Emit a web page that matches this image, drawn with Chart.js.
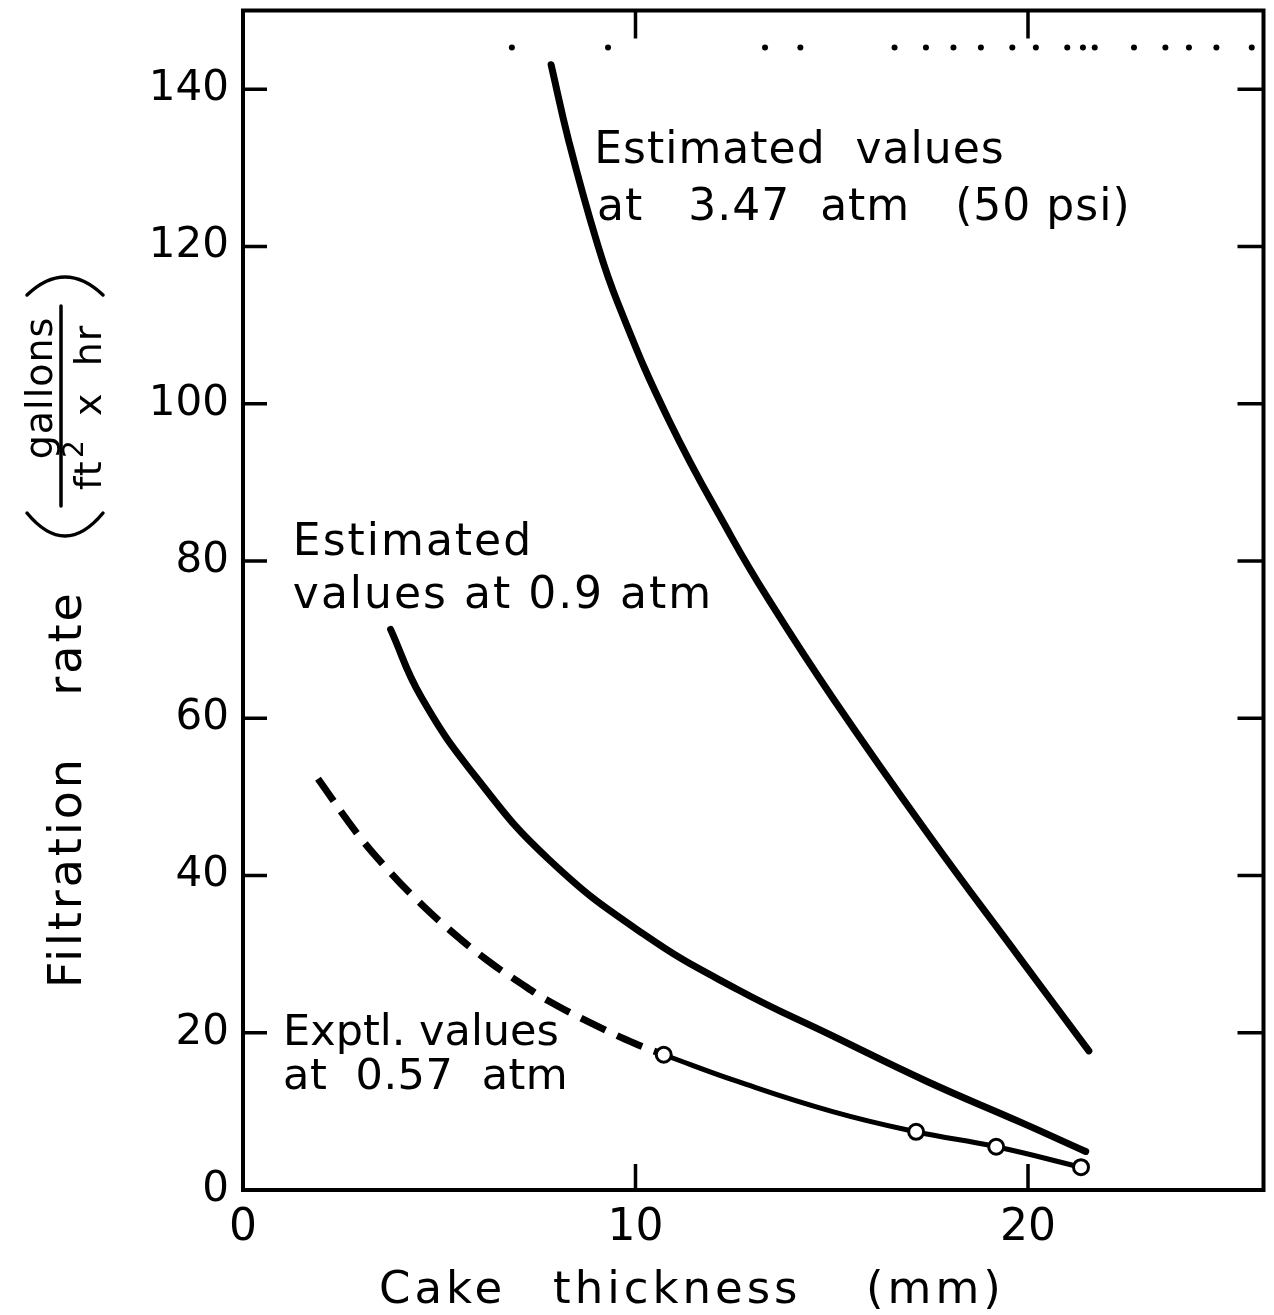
<!DOCTYPE html>
<html>
<head>
<meta charset="utf-8">
<title>Filtration rate vs cake thickness</title>
<script src="https://cdn.jsdelivr.net/npm/chart.js@4.4.1/dist/chart.umd.min.js"></script>
<style>
  html, body { margin: 0; padding: 0; background: #fff; }
  #wrap { width: 1274px; height: 1315px; }
</style>
</head>
<body>
<div id="wrap"><canvas id="filtrationChart" width="1274" height="1315"></canvas></div>
<script>
// cake thickness in mm, filtration rate in gallons / (ft2 x hr)

// estimated, 3.47 atm (50 psi)
const est347X = [7.85, 8.3, 9.0, 9.55, 10.85, 12.45, 13.39, 15.02, 17.45, 19.82, 21.55];
const est347Y = [143.1, 133.4, 120.8, 112.8, 97.9, 83.0, 75.1, 62.6, 45.3, 29.3, 17.7];

// estimated, 0.9 atm
const est09X = [3.76, 4.54, 5.97, 7.8, 10.19, 12.6, 15.02, 17.43, 19.82, 21.47];
const est09Y = [71.3, 62.7, 52.3, 42.0, 32.6, 25.5, 19.6, 13.8, 8.6, 4.9];

// experimental, 0.57 atm - extrapolated part (dashed)
const exptExtX = [1.91, 2.9, 3.66, 4.42, 5.26, 6.2, 7.04, 7.8, 9.0, 10.0, 10.72];
const exptExtY = [52.3, 45.4, 40.9, 36.95, 33.1, 29.3, 26.4, 24.0, 20.9, 18.6, 17.2];

// experimental, 0.57 atm - fitted part (solid)
const exptFitX = [10.72, 12.6, 15.0, 17.15, 19.19, 21.35];
const exptFitY = [17.2, 13.8, 10.0, 7.4, 5.5, 2.9];

// measured points
const exptPtX = [10.72, 17.15, 19.19, 21.35];
const exptPtY = [17.2, 7.4, 5.5, 2.9];

// dotted reference line near the top
const dotX = [6.85, 9.3, 13.3, 14.2, 16.6, 17.4, 18.1, 18.8, 19.6, 20.2, 21.0, 21.4, 21.7, 22.7, 23.5, 24.1, 24.8, 25.7];
const dotY = 145.3;

const xTicks = [0, 10, 20];
const yTicks = [0, 20, 40, 60, 80, 100, 120, 140];

const FONT = "'DejaVu Sans', 'Liberation Sans', sans-serif";

// curve notes, placed in data units
const notes = [
    { text: 'Estimated  values', x: 8.95, y: 130.6, size: 44, spacing: 1 },
    { text: 'at   3.47  atm   (50 psi)', x: 9.02, y: 123.4, size: 44, spacing: 1 },
    { text: 'Estimated', x: 1.27, y: 80.8, size: 44, spacing: 2 },
    { text: 'values at 0.9 atm', x: 1.27, y: 74.0, size: 44, spacing: 2 },
    { text: 'Exptl. values', x: 1.02, y: 18.4, size: 43, spacing: 0 },
    { text: 'at  0.57  atm', x: 1.02, y: 12.8, size: 43, spacing: 0.5 }
];

const toPoints = (xs, ys) => xs.map((x, i) => ({ x: x, y: Array.isArray(ys) ? ys[i] : ys }));

// shared look of the drawn curves
const curve = (label, xs, ys, extra) => Object.assign({
    label: label,
    type: 'line',
    data: toPoints(xs, ys),
    borderColor: '#000',
    borderWidth: 7,
    borderCapStyle: 'round',
    tension: 0.45,
    pointRadius: 0,
    fill: false
}, extra || {});

// box, inward ticks
const framePlugin = {
    id: 'frame',
    afterDatasetsDraw(chart) {
        const { ctx, chartArea: a, scales: { x, y } } = chart;
        ctx.save();
        ctx.strokeStyle = '#000';
        ctx.lineWidth = 4;
        ctx.strokeRect(a.left, a.top, a.right - a.left, a.bottom - a.top);
        ctx.lineWidth = 3.5;
        ctx.beginPath();
        yTicks.forEach(v => {
            if (v === 0) return;
            const py = y.getPixelForValue(v);
            ctx.moveTo(a.left, py); ctx.lineTo(a.left + 24, py);
            ctx.moveTo(a.right, py); ctx.lineTo(a.right - 26, py);
        });
        xTicks.forEach(v => {
            if (v === 0) return;
            const px = x.getPixelForValue(v);
            ctx.moveTo(px, a.bottom); ctx.lineTo(px, a.bottom - 26);
            ctx.moveTo(px, a.top); ctx.lineTo(px, a.top + 28);
        });
        ctx.stroke();
        ctx.restore();
    }
};

// axis titles and curve notes
const textPlugin = {
    id: 'texts',
    afterDraw(chart) {
        const { ctx, scales: { x, y } } = chart;
        ctx.save();
        ctx.fillStyle = '#000';
        ctx.strokeStyle = '#000';
        ctx.textBaseline = 'alphabetic';

        // notes inside the plot
        ctx.textAlign = 'left';
        notes.forEach(n => {
            ctx.font = n.size + 'px ' + FONT;
            ctx.letterSpacing = n.spacing + 'px';
            ctx.fillText(n.text, x.getPixelForValue(n.x), y.getPixelForValue(n.y));
        });

        // x title
        ctx.font = '45px ' + FONT;
        ctx.letterSpacing = '4px';
        ctx.fillText('Cake', 379, 1303);
        ctx.fillText('thickness', 553, 1303);
        ctx.fillText('(mm)', 866, 1303);

        // y title, rotated
        ctx.save();
        ctx.translate(81, 0);
        ctx.rotate(-Math.PI / 2);
        ctx.textAlign = 'center';
        ctx.font = '46px ' + FONT;
        ctx.letterSpacing = '3px';
        ctx.fillText('Filtration', -872, 0);
        ctx.fillText('rate', -643, 0);
        ctx.restore();

        // units: (gallons / ft2 x hr)
        ctx.save();
        ctx.translate(61, 406);
        ctx.rotate(-Math.PI / 2);
        ctx.letterSpacing = '1px';
        ctx.lineWidth = 3.5;
        ctx.lineCap = 'round';
        ctx.beginPath();
        ctx.moveTo(-100, 0); ctx.lineTo(100, 0);
        ctx.moveTo(-107, -34); ctx.quadraticCurveTo(-153, 4, -107, 42);
        ctx.moveTo(111, -34); ctx.quadraticCurveTo(147, 4, 111, 42);
        ctx.stroke();
        ctx.textAlign = 'center';
        ctx.font = '38px ' + FONT;
        ctx.fillText('gallons', 18, -9);
        ctx.textAlign = 'left';
        ctx.fillText('ft', -84, 40);
        ctx.font = '28px ' + FONT;
        ctx.fillText('2', -52, 22);
        ctx.font = '38px ' + FONT;
        ctx.fillText('x  hr', -10, 40);
        ctx.restore();

        ctx.restore();
    }
};

// drop the label overhang Chart.js reserves at the axis ends
const noOverhang = scale => {
    scale.paddingTop = 0;
    scale.paddingBottom = 0;
    scale.paddingLeft = 0;
    scale.paddingRight = 0;
};

const ctx = document.getElementById('filtrationChart').getContext('2d');

new Chart(ctx, {
    type: 'scatter',
    data: {
        datasets: [
            {
                label: 'Exptl. points',
                data: toPoints(exptPtX, exptPtY),
                showLine: false,
                pointRadius: 7.5,
                pointBorderWidth: 3,
                pointBackgroundColor: '#fff',
                pointBorderColor: '#000'
            },
            curve('Estimated 3.47 atm', est347X, est347Y),
            curve('Estimated 0.9 atm', est09X, est09Y),
            curve('Exptl. extrapolated', exptExtX, exptExtY, { borderDash: [27, 13], borderCapStyle: 'butt' }),
            curve('Exptl. 0.57 atm', exptFitX, exptFitY, { borderWidth: 5 }),
            {
                label: 'Dotted line',
                data: toPoints(dotX, dotY),
                showLine: false,
                pointRadius: 3,
                pointBorderWidth: 0,
                pointBackgroundColor: '#000'
            }
        ]
    },
    options: {
        responsive: false,
        animation: false,
        events: [],
        layout: {
            padding: { top: 8, right: 8, left: 0, bottom: 0 }
        },
        plugins: {
            legend: { display: false },
            tooltip: { enabled: false }
        },
        scales: {
            x: {
                type: 'linear',
                min: 0,
                max: 26,
                grid: { display: false, drawTicks: false },
                border: { display: false },
                afterBuildTicks: scale => { scale.ticks = xTicks.map(v => ({ value: v })); },
                afterFit: scale => { scale.height = 125; noOverhang(scale); },
                ticks: {
                    padding: 12,
                    color: '#000',
                    font: { family: FONT, size: 44 },
                    maxRotation: 0
                }
            },
            y: {
                type: 'linear',
                min: 0,
                max: 150,
                grid: { display: false, drawTicks: false },
                border: { display: false },
                afterBuildTicks: scale => { scale.ticks = yTicks.map(v => ({ value: v })); },
                afterFit: scale => { scale.width = 243; noOverhang(scale); },
                ticks: {
                    padding: 14,
                    color: '#000',
                    font: { family: FONT, size: 42 }
                }
            }
        }
    },
    plugins: [framePlugin, textPlugin]
});
</script>
</body>
</html>
